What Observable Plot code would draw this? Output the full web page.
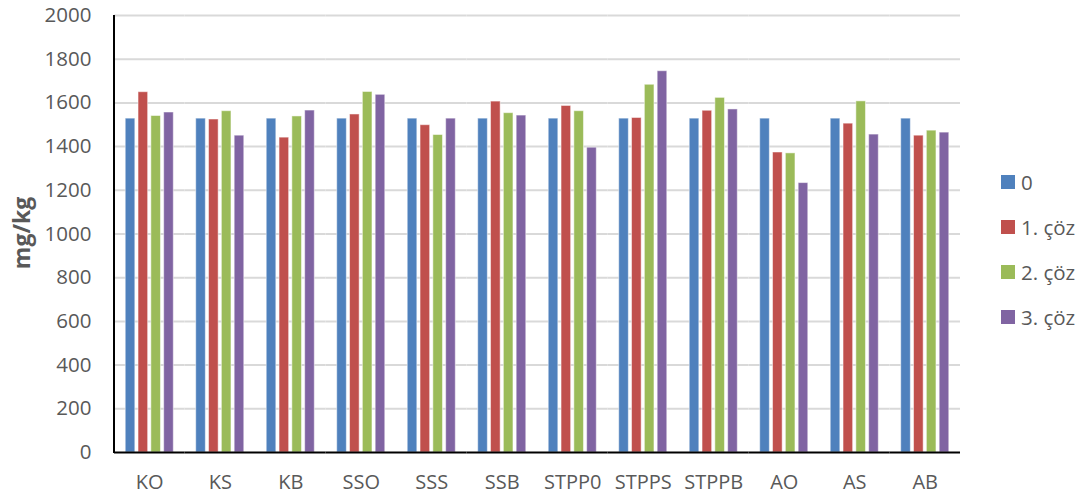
<!DOCTYPE html>
<html>
<head>
<meta charset="utf-8">
<script src="https://cdn.jsdelivr.net/npm/d3@7"></script>
<script src="https://cdn.jsdelivr.net/npm/@observablehq/plot@0.6"></script>
<style>
  html, body { margin: 0; padding: 0; background: #fff; }
  #wrap { position: relative; width: 1086px; height: 498px; font-family: "Open Sans", sans-serif; color: #595959; }
  #ytitle { position: absolute; left: 21px; top: 233px; transform: translate(-50%, -50%) rotate(-90deg); font-weight: bold; font-size: 23px; white-space: nowrap; }
  #legend { position: absolute; left: 1001px; top: 159.5px; font-size: 20.5px; }
  .item { display: flex; align-items: center; height: 45px; }
  .sw { width: 14px; height: 14px; margin-right: 6px; }
</style>
</head>
<body>
<div id="wrap">
  <div id="chart"></div>
  <div id="ytitle">mg/kg</div>
  <div id="legend"></div>
</div>
<script>
const categories = ["KO","KS","KB","SSO","SSS","SSB","STPP0","STPPS","STPPB","AO","AS","AB"];
const series = ["0","1. çöz","2. çöz","3. çöz"];
const colors = ["#4F81BD","#C0504D","#9BBB59","#8064A2"];
const v0 = [1528,1528,1528,1528,1528,1528,1528,1528,1528,1528,1528,1528];
const v1 = [1649,1524,1441,1547,1498,1606,1586,1531,1564,1373,1505,1450];
const v2 = [1540,1562,1538,1650,1453,1553,1562,1683,1623,1369,1607,1473];
const v3 = [1556,1450,1565,1637,1528,1542,1395,1745,1570,1233,1455,1464];
const yTicks = [0,200,400,600,800,1000,1200,1400,1600,1800,2000];

const values = [v0, v1, v2, v3];
const data = [];
categories.forEach((c, i) => series.forEach((s, j) => data.push({cat: c, series: s, value: values[j][i]})));

const marginLeft = 114;
const chart = Plot.plot({
  width: 1086,
  height: 498,
  marginLeft,
  marginRight: 126,
  marginTop: 15,
  marginBottom: 46,
  style: {fontFamily: "'Open Sans', sans-serif", fontSize: "20px", color: "#595959", background: "white"},
  fx: {domain: categories, paddingInner: 0, paddingOuter: 0, round: false, label: null},
  x: {domain: series, paddingInner: 0.25, paddingOuter: 0.875, round: false, axis: null},
  y: {domain: [0, 2000], label: null},
  color: {domain: series, range: colors},
  marks: [
    Plot.gridY(yTicks.slice(1), {stroke: "#d9d9d9", strokeOpacity: 1, strokeWidth: 2}),
    Plot.barY(data, {fx: "cat", x: "series", y: "value", fill: "series", stroke: "white", strokeOpacity: 0.5, strokeWidth: 1}),
    Plot.ruleY([0], {stroke: "black", strokeWidth: 2}),
    Plot.axisY(yTicks, {tickSize: 0, tickPadding: 23, label: null, fontSize: 20.5, tickFormat: d => String(d)}),
    Plot.axisFx({anchor: "bottom", tickSize: 0, tickPadding: 22, label: null, fontSize: 20})
  ]
});
document.getElementById("chart").appendChild(chart);

// left axis line along the plot's left edge, spanning the y scale's range
const yr = chart.scale("y").range;
d3.select(chart).append("line")
  .attr("x1", marginLeft).attr("x2", marginLeft)
  .attr("y1", Math.min(...yr)).attr("y2", Math.max(...yr) + 1)
  .attr("stroke", "black").attr("stroke-width", 2);

const legend = d3.select("#legend");
series.forEach((s, i) => {
  const it = legend.append("div").attr("class", "item");
  it.append("div").attr("class", "sw").style("background", colors[i]);
  it.append("span").text(s);
});
</script>
</body>
</html>
